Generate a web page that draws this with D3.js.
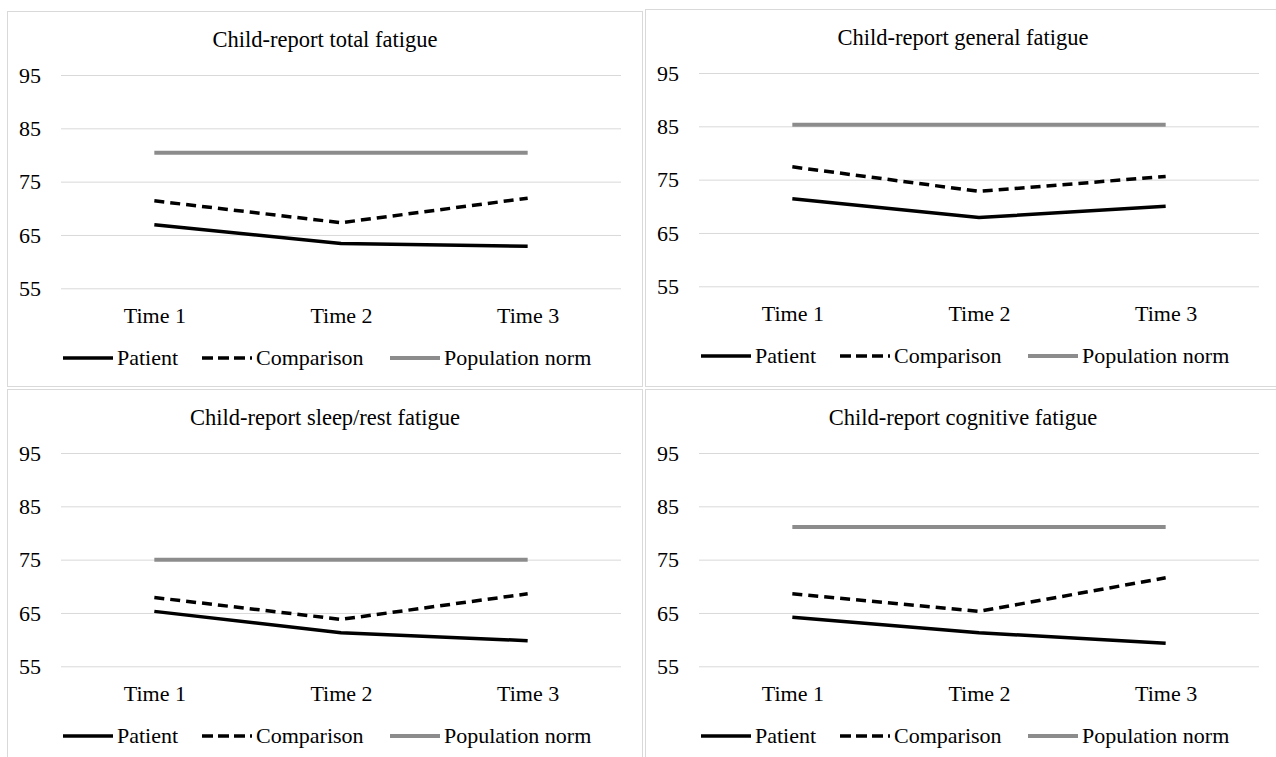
<!DOCTYPE html>
<html>
<head>
<meta charset="utf-8">
<script src="https://cdn.jsdelivr.net/npm/d3@7"></script>
<style>
  body { margin: 0; background: #fff; }
  svg { display: block; }
  text { font-family: "Liberation Serif", "Times New Roman", serif; fill: #000; }
</style>
</head>
<body>
<svg id="chart" width="1276" height="757"></svg>
<script>
// data
const times = ["Time 1", "Time 2", "Time 3"];
const yTicks = [55, 65, 75, 85, 95];
const titles = [
  "Child-report total fatigue",
  "Child-report general fatigue",
  "Child-report sleep/rest fatigue",
  "Child-report cognitive fatigue"
];
const patient = [
  [66.9, 63.4, 62.9],
  [71.4, 67.9, 70.0],
  [65.3, 61.3, 59.8],
  [64.2, 61.3, 59.3]
];
const comparison = [
  [71.4, 67.3, 71.9],
  [77.4, 72.8, 75.6],
  [67.9, 63.8, 68.6],
  [68.6, 65.3, 71.6]
];
const populationNorm = [
  [80.4, 80.4, 80.4],
  [85.3, 85.3, 85.3],
  [75.0, 75.0, 75.0],
  [81.1, 81.1, 81.1]
];
const seriesNames = ["Patient", "Comparison", "Population norm"];

const FONT = "Liberation Serif, Times New Roman, serif";

// panel frames
const panels = [
  { x: 7, y: 11, w: 635, h: 375 },
  { x: 645, y: 9, w: 640, h: 377 },
  { x: 7, y: 389, w: 635, h: 400 },
  { x: 645, y: 389, w: 640, h: 400 }
];

const styles = [
  { stroke: "#000", width: 3.5, dash: null },
  { stroke: "#000", width: 3.5, dash: "10,6" },
  { stroke: "#8c8c8c", width: 4, dash: null }
];

const svg = d3.select("#chart");

const x = d3.scalePoint().domain(times).range([54, 614]).padding(0.5);
const y = d3.scaleLinear().domain([55, 95]).range([277.3, 64]);

const line = d3.line()
  .x((d, i) => x(times[i]))
  .y(d => y(d));

panels.forEach((p, k) => {
  const g = svg.append("g")
    .attr("transform", "translate(" + p.x + "," + p.y + ")");

  g.append("rect")
    .attr("x", 0.5).attr("y", 0.5)
    .attr("width", p.w).attr("height", p.h)
    .attr("fill", "#fff")
    .attr("stroke", "#d9d9d9")
    .attr("stroke-width", 1);

  g.append("text")
    .attr("x", 318)
    .attr("y", 35.5)
    .attr("text-anchor", "middle")
    .style("font-family", FONT)
    .style("font-size", "22.5px")
    .text(titles[k]);

  // y axis + gridlines
  const yAxis = g.append("g")
    .attr("transform", "translate(54,0)")
    .call(d3.axisLeft(y).tickValues(yTicks).tickSize(-560).tickPadding(20));
  yAxis.select(".domain").remove();
  yAxis.selectAll(".tick line").attr("stroke", "#d9d9d9");
  yAxis.selectAll(".tick text")
    .style("font-size", "22px")
    .style("font-family", FONT)
    .attr("fill", "#000");

  // x axis labels
  const xAxis = g.append("g")
    .attr("transform", "translate(0," + y(55) + ")")
    .call(d3.axisBottom(x).tickSize(0).tickPadding(19.5));
  xAxis.select(".domain").remove();
  xAxis.selectAll(".tick text")
    .style("font-size", "22px")
    .style("font-family", FONT)
    .attr("fill", "#000");

  // series
  const data = [patient[k], comparison[k], populationNorm[k]];
  [2, 1, 0].forEach(s => {
    g.append("path")
      .datum(data[s])
      .attr("d", line)
      .attr("fill", "none")
      .attr("stroke", styles[s].stroke)
      .attr("stroke-width", styles[s].width)
      .attr("stroke-dasharray", styles[s].dash)
      .attr("stroke-linejoin", "round");
  });

  // legend
  const legX = [56, 195, 383];
  const legend = g.append("g").attr("transform", "translate(0,347)");
  seriesNames.forEach((name, s) => {
    legend.append("line")
      .attr("x1", legX[s]).attr("x2", legX[s] + 50)
      .attr("y1", 0).attr("y2", 0)
      .attr("stroke", styles[s].stroke)
      .attr("stroke-width", styles[s].width)
      .attr("stroke-dasharray", styles[s].dash ? "11,5" : null);
    legend.append("text")
      .attr("x", legX[s] + 54)
      .attr("y", 7)
      .style("font-family", FONT)
      .style("font-size", "22px")
      .text(name);
  });
});
</script>
</body>
</html>
